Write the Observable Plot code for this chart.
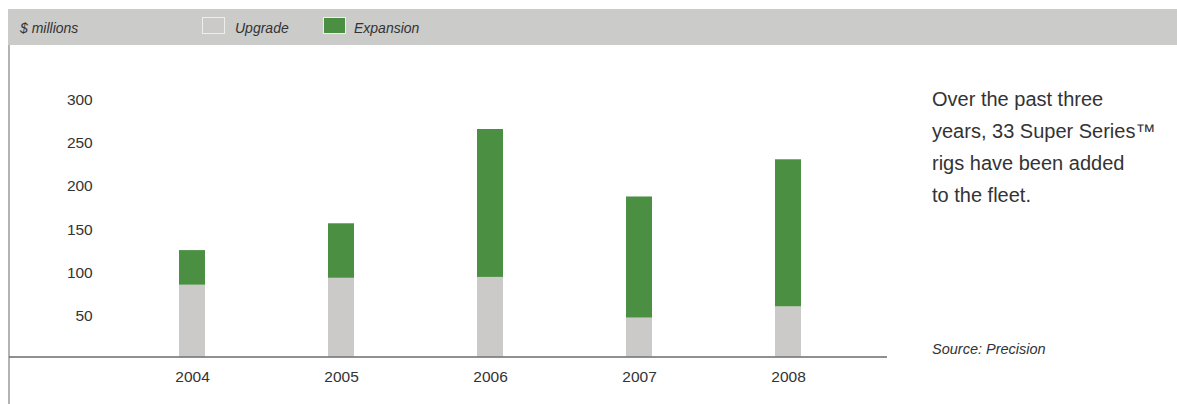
<!DOCTYPE html>
<html>
<head>
<meta charset="utf-8">
<script src="https://cdn.jsdelivr.net/npm/d3@7"></script>
<script src="https://cdn.jsdelivr.net/npm/@observablehq/plot@0.6"></script>
<style>
  html, body { margin: 0; padding: 0; background: #fff; }
  body { width: 1177px; height: 404px; position: relative; overflow: hidden;
         font-family: "Liberation Sans", Arial, Helvetica, sans-serif; color: #333; }
  #header { position: absolute; left: 8px; top: 9px; width: 1169px; height: 36px; background: #cbcbca; }
  .hl { position: absolute; top: 1px; height: 36px; line-height: 36px; font-style: italic; font-size: 14px; color: #333; }
  .sw { position: absolute; top: 8px; width: 21px; height: 15px; border: 1px solid #eeeeee; }
  #vline { position: absolute; left: 8px; top: 45px; width: 1.5px; height: 359px; background: #b3b3b3; }
  #chart { position: absolute; left: 0; top: 45px; }
  #note { position: absolute; left: 932px; top: 83px; font-size: 20px; line-height: 32px; color: #333; }
  #source { position: absolute; left: 932px; top: 341px; font-size: 14.5px; font-style: italic; color: #333; }
</style>
</head>
<body>
<div id="header"></div>
<div id="vline"></div>
<div id="chart"></div>
<div id="note"></div>
<div id="source"></div>
<script>
const years = ["2004", "2005", "2006", "2007", "2008"];
const upgrade = [83, 91, 92, 45, 58];
const expansion = [40, 63, 171, 140, 170];
const seriesNames = ["Upgrade", "Expansion"];
const seriesColors = ["#cbcac8", "#4a8f42"];
const yTicks = [50, 100, 150, 200, 250, 300];
const unitLabel = "$ millions";
const noteLines = ["Over the past three", "years, 33 Super Series™", "rigs have been added", "to the fleet."];
const sourceText = "Source: Precision";

const rows = [
  ...years.map((y, i) => ({year: y, type: seriesNames[0], value: upgrade[i]})),
  ...years.map((y, i) => ({year: y, type: seriesNames[1], value: expansion[i]}))
];

// header legend
const header = document.getElementById("header");
const addText = (txt, left) => {
  const d = document.createElement("div");
  d.className = "hl"; d.style.left = left + "px"; d.textContent = txt; header.appendChild(d);
};
const addSwatch = (color, left) => {
  const d = document.createElement("div");
  d.className = "sw"; d.style.left = left + "px"; d.style.background = color; header.appendChild(d);
};
addText(unitLabel, 12);
addSwatch(seriesColors[0], 194);
addText(seriesNames[0], 227);
addSwatch(seriesColors[1], 315);
addText(seriesNames[1], 346);

document.getElementById("note").innerHTML = noteLines.map(s => `<div>${s}</div>`).join("");
document.getElementById("source").textContent = sourceText;

const mL = 116.25, mR = 36.25;
const chart = Plot.plot({
  width: 900,
  height: 359,
  marginTop: 52,
  marginBottom: 47.5,
  marginLeft: mL,
  marginRight: mR,
  style: {fontFamily: '"Liberation Sans", Arial, Helvetica, sans-serif', fontSize: "15.5px", color: "#333", background: "transparent"},
  x: {domain: years, paddingInner: 0.826, paddingOuter: 0.413, align: 0.5, label: null, tickSize: 0, tickPadding: 14},
  y: {domain: [0, 300], label: null},
  color: {domain: seriesNames, range: seriesColors},
  marks: [
    Plot.barY(rows, {x: "year", y: "value", fill: "type"}),
    Plot.ruleY([0], {stroke: "#6b6b6b", strokeWidth: 1.5, insetLeft: -(mL - 9), insetRight: -(887 - (900 - mR))}),
    Plot.axisY({ticks: yTicks, tickSize: 0, tickPadding: 24, dy: 2.5, label: null, fill: "#333"}),
    Plot.axisX({tickSize: 0, tickPadding: 14, label: null, fill: "#333"})
  ]
});
document.getElementById("chart").appendChild(chart);
</script>
</body>
</html>
